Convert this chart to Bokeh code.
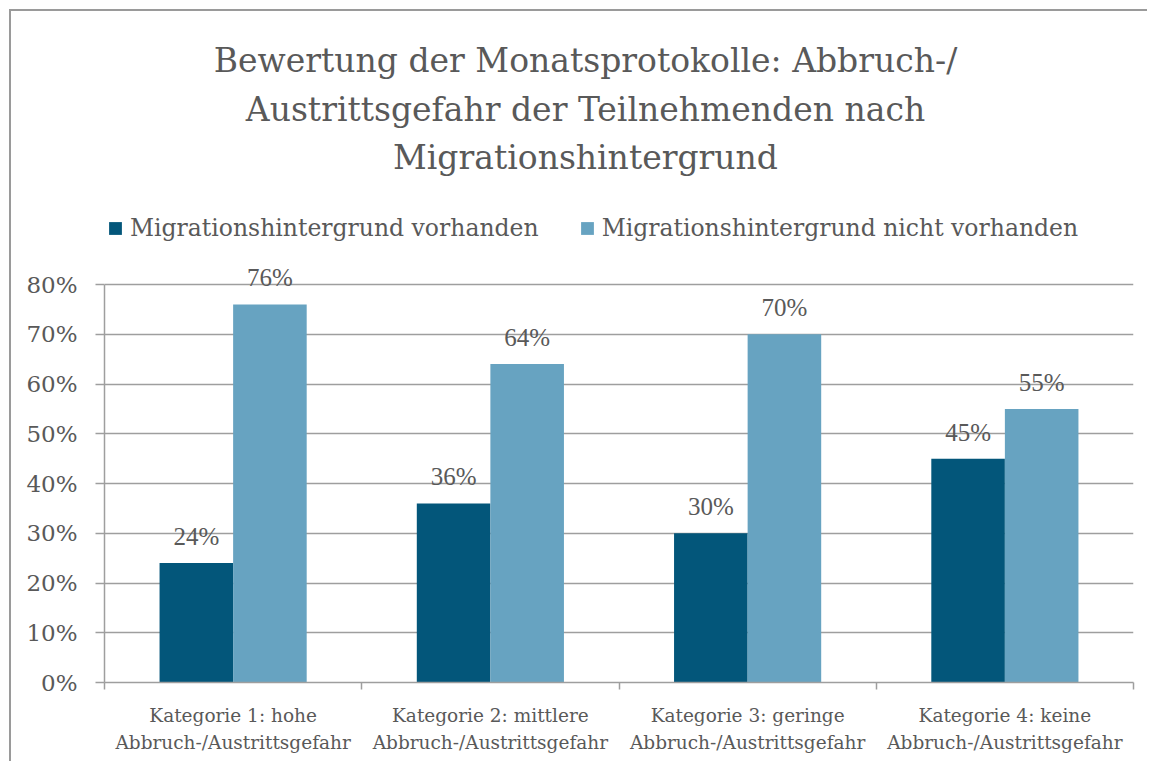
from bokeh.plotting import figure
from bokeh.models import (ColumnDataSource, Range1d, FixedTicker, PrintfTickFormatter,
                          Legend, LegendItem, LabelSet, Label)
from bokeh.embed import file_html
from bokeh.resources import INLINE

# ---- data ----
categories = [
    "Kategorie 1: hohe\nAbbruch-/Austrittsgefahr",
    "Kategorie 2: mittlere\nAbbruch-/Austrittsgefahr",
    "Kategorie 3: geringe\nAbbruch-/Austrittsgefahr",
    "Kategorie 4: keine\nAbbruch-/Austrittsgefahr",
]
series_names = ["Migrationshintergrund vorhanden", "Migrationshintergrund nicht vorhanden"]
mit_migration = [24, 36, 30, 45]
ohne_migration = [76, 64, 70, 55]
y_ticks = [0, 10, 20, 30, 40, 50, 60, 70, 80]
title_lines = [
    "Bewertung der Monatsprotokolle: Abbruch-/",
    "Austrittsgefahr der Teilnehmenden nach",
    "Migrationshintergrund",
]

FONT = "DejaVu Serif"
GREY = "#595959"
LINE = "#9e9e9e"
DARK = "#03567a"
LIGHT = "#67a3c1"
BAR_W = 0.286

# layout (pixels)
PLOT_H = 398          # height of the 0..80 % value area
FRAME_H = 662         # frame extends upward to hold title and legend
Y_MAX = 80
Y_TOP = Y_MAX * FRAME_H / PLOT_H

centers = [i + 0.5 for i in range(len(categories))]
src1 = ColumnDataSource(dict(x=[c - BAR_W / 2 for c in centers], y=mit_migration,
                             lab=[f"{v}%" for v in mit_migration]))
src2 = ColumnDataSource(dict(x=[c + BAR_W / 2 for c in centers], y=ohne_migration,
                             lab=[f"{v}%" for v in ohne_migration]))

p = figure(width=1136, height=750, output_backend="svg", toolbar_location=None,
           x_range=Range1d(0, len(categories)), y_range=Range1d(0, Y_TOP),
           frame_width=1029, frame_height=FRAME_H,
           min_border_left=93, min_border_right=14, min_border_top=9, min_border_bottom=79)
p.styles = {"margin-left": "9px", "margin-top": "9px",
            "border-left": "2px solid #9a9a9a", "border-top": "2px solid #9a9a9a"}
p.outline_line_color = None
p.background_fill_color = "white"
p.border_fill_color = "white"

r1 = p.vbar(x="x", top="y", width=BAR_W, source=src1, color=DARK, line_color=None)
r2 = p.vbar(x="x", top="y", width=BAR_W, source=src2, color=LIGHT, line_color=None)

# axes
p.xgrid.visible = False
p.ygrid.grid_line_color = LINE
p.ygrid.grid_line_width = 1.5
p.yaxis.ticker = FixedTicker(ticks=y_ticks)
p.yaxis.bounds = (0, Y_MAX)
p.yaxis.formatter = PrintfTickFormatter(format="%d%%")
p.yaxis.axis_line_color = LINE
p.yaxis.axis_line_width = 1.5
p.yaxis.major_tick_line_color = LINE
p.yaxis.major_tick_line_width = 1.5
p.yaxis.major_tick_out = 9
p.yaxis.major_tick_in = 0
p.yaxis.minor_tick_line_color = None
p.yaxis.major_label_standoff = 18
p.yaxis.major_label_text_font = FONT
p.yaxis.major_label_text_font_size = "23px"
p.yaxis.major_label_text_color = GREY

p.xaxis.ticker = FixedTicker(ticks=centers, minor_ticks=list(range(len(categories) + 1)))
p.xaxis.major_label_overrides = {c: lab for c, lab in zip(centers, categories)}
p.xaxis.axis_line_color = LINE
p.xaxis.axis_line_width = 1.5
p.xaxis.major_tick_line_color = None
p.xaxis.major_tick_out = 0
p.xaxis.major_tick_in = 0
p.xaxis.minor_tick_line_color = LINE
p.xaxis.minor_tick_line_width = 1.5
p.xaxis.minor_tick_out = 7
p.xaxis.minor_tick_in = 0
p.xaxis.major_label_standoff = 15
p.xaxis.major_label_text_font = FONT
p.xaxis.major_label_text_font_size = "18.5px"
p.xaxis.major_label_text_color = GREY
p.xaxis.major_label_text_line_height = 1.3

# data labels
for s in (src1, src2):
    p.add_layout(LabelSet(x="x", y="y", text="lab", source=s, text_align="center",
                          text_baseline="alphabetic", y_offset=18, text_font=FONT,
                          text_font_size="25px", text_color=GREY))

# title lines
for i, t in enumerate(title_lines):
    p.add_layout(Label(x=0, y=Y_MAX, x_offset=481, y_offset=224 - 48.5 * i, text=t,
                       text_align="center", text_baseline="alphabetic", text_font=FONT,
                       text_font_size="33px", text_color=GREY))

legend = Legend(items=[LegendItem(label=series_names[0], renderers=[r1]),
                       LegendItem(label=series_names[1], renderers=[r2])],
                orientation="horizontal", location=(3, 440),
                glyph_width=16, glyph_height=16, label_standoff=7, spacing=40,
                padding=0, margin=0, border_line_color=None, background_fill_alpha=0,
                label_text_font=FONT, label_text_font_size="23.5px", label_text_color=GREY)
p.add_layout(legend, "center")

open("out.html", "w").write(file_html(p, INLINE))
